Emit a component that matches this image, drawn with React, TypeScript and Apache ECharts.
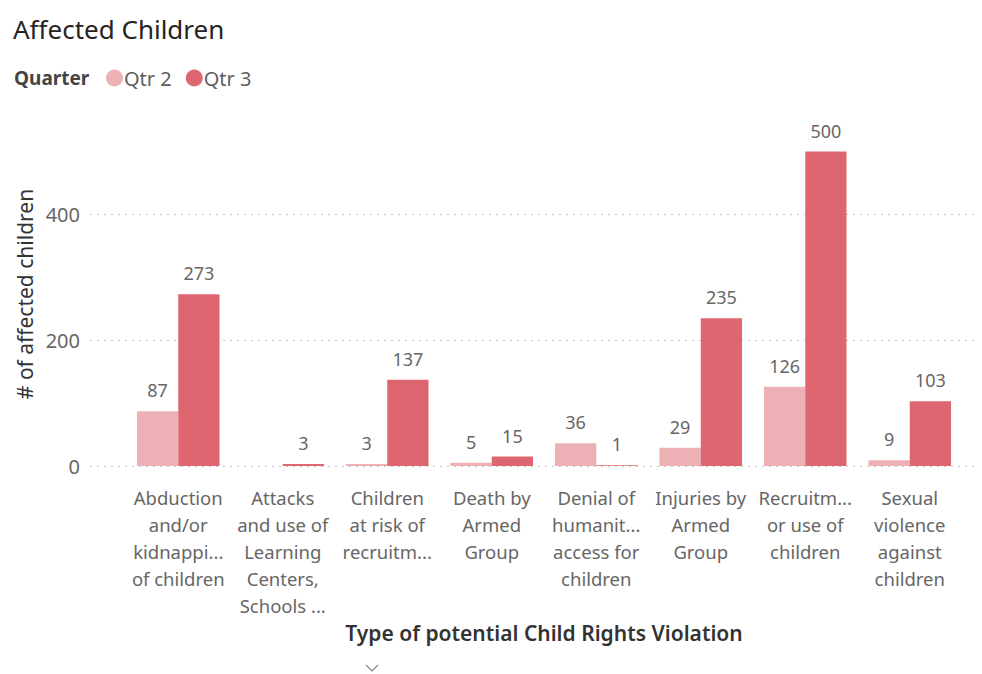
import React, { useEffect, useRef } from "react";
import * as echarts from "echarts";

const categories = [
  "Abduction\nand/or\nkidnappi...\nof children",
  "Attacks\nand use of\nLearning\nCenters,\nSchools ...",
  "Children\nat risk of\nrecruitm...",
  "Death by\nArmed\nGroup",
  "Denial of\nhumanit...\naccess for\nchildren",
  "Injuries by\nArmed\nGroup",
  "Recruitm...\nor use of\nchildren",
  "Sexual\nviolence\nagainst\nchildren",
];
const qtr2: (number | null)[] = [87, null, 3, 5, 36, 29, 126, 9];
const qtr3: number[] = [273, 3, 137, 15, 1, 235, 500, 103];
const seriesNames = ["Qtr 2", "Qtr 3"];

const FONT = "'Noto Sans', 'Open Sans', sans-serif";

export default function App() {
  const ref = useRef<HTMLDivElement>(null);
  useEffect(() => {
    if (!ref.current) return;
    const chart = echarts.init(ref.current, undefined, { renderer: "svg" });
    const labelStyle = {
      show: true,
      position: "top" as const,
      distance: 12,
      color: "#666666",
      fontSize: 18,
      fontFamily: FONT,
    };
    chart.setOption({
      animation: false,
      backgroundColor: "#ffffff",
      textStyle: { fontFamily: FONT },
      title: [
        {
          text: "Affected Children",
          left: 8,
          top: 11,
          textStyle: { fontSize: 26, fontWeight: "normal", color: "#252423", fontFamily: FONT },
        },
        {
          text: "Quarter",
          left: 9,
          top: 63,
          textStyle: { fontSize: 19, fontWeight: "bold", color: "#444444", fontFamily: FONT },
        },
      ],
      legend: {
        data: seriesNames,
        left: 101,
        top: 63,
        icon: "circle",
        itemWidth: 17,
        itemHeight: 17,
        itemGap: 14,
        textStyle: { fontSize: 20, color: "#605E5C", fontFamily: FONT, padding: [0, 0, 0, -4] },
      },
      grid: [
        { left: 90, right: 7, top: 139, bottom: 208 },
        { left: 126, right: 20, top: 139, bottom: 208 },
      ],
      xAxis: [
        { type: "category", gridIndex: 0, data: [""], show: false },
        {
          type: "category",
          gridIndex: 1,
          data: categories,
          axisLine: { show: false },
          axisTick: { show: false },
          axisLabel: {
            interval: 0,
            color: "#666666",
            fontSize: 18.5,
            lineHeight: 27,
            margin: 18,
            fontFamily: FONT,
          },
          name: "Type of potential Child Rights Violation",
          nameLocation: "middle",
          nameGap: 156,
          nameTextStyle: { fontSize: 21, fontWeight: 600, color: "#333333", fontFamily: FONT },
        },
      ],
      yAxis: [
        {
          type: "value",
          gridIndex: 0,
          min: 0,
          max: 520,
          interval: 200,
          axisLine: { show: false },
          axisTick: { show: false },
          axisLabel: { color: "#666666", fontSize: 20, margin: 10, showMaxLabel: false, fontFamily: FONT },
          splitLine: {
            show: true,
            showMaxLine: false,
            lineStyle: { color: "#c8c8c8", type: [2, 5], width: 1 },
          },
        },
        {
          type: "value",
          gridIndex: 1,
          min: 0,
          max: 520,
          interval: 200,
          show: false,
          splitLine: { show: false },
        },
      ],
      series: [
        {
          name: seriesNames[0],
          type: "bar",
          xAxisIndex: 1,
          yAxisIndex: 1,
          data: qtr2,
          barGap: "0%",
          barCategoryGap: "21%",
          itemStyle: { color: "#EDB0B5" },
          label: labelStyle,
        },
        {
          name: seriesNames[1],
          type: "bar",
          xAxisIndex: 1,
          yAxisIndex: 1,
          data: qtr3,
          barGap: "0%",
          barCategoryGap: "21%",
          itemStyle: { color: "#DD6670" },
          label: labelStyle,
        },
      ],
      graphic: [
        {
          type: "text",
          x: 25,
          y: 294,
          rotation: Math.PI / 2,
          style: {
            text: "# of affected children",
            fontSize: 21,
            fill: "#333333",
            fontFamily: FONT,
            align: "center",
            verticalAlign: "middle",
          },
        },
        {
          type: "polyline",
          shape: { points: [[366, 665], [372, 671], [378, 665]] },
          style: { stroke: "#888888", lineWidth: 1.2, fill: "none" },
        },
      ],
    });
    return () => chart.dispose();
  }, []);
  return (
    <div
      ref={ref}
      style={{ position: "fixed", left: 0, top: 0, width: 982, height: 674, background: "#fff" }}
    />
  );
}
